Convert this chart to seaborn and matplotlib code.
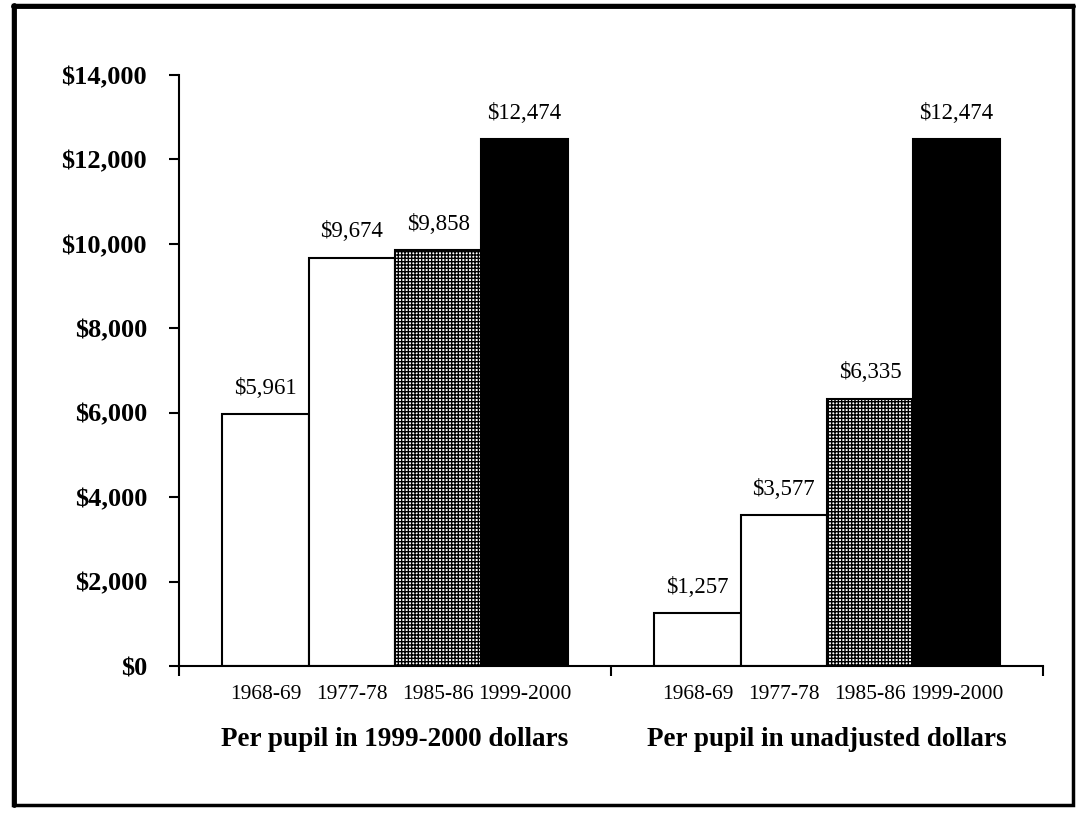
# Per pupil expenditure bar chart (adjusted vs unadjusted dollars)

import seaborn as sns
import matplotlib.pyplot as plt
import pandas as pd
from matplotlib.ticker import FuncFormatter
from matplotlib.patches import Rectangle
from matplotlib.lines import Line2D

# --- data ---
groups = ["Per pupil in 1999-2000 dollars", "Per pupil in unadjusted dollars"]
years = ["1968-69", "1977-78", "1985-86", "1999-2000"]
adjusted = [5961, 9674, 9858, 12474]
unadjusted = [1257, 3577, 6335, 12474]
bar_colors = ["white", "white", "white", "black"]

df = pd.DataFrame({
    "group": [groups[0]] * len(years) + [groups[1]] * len(years),
    "year": years * 2,
    "amount": adjusted + unadjusted,
})

sns.set_style("white")
plt.rcParams["font.family"] = ["Liberation Serif", "DejaVu Serif"]
plt.rcParams["hatch.linewidth"] = 1.0
plt.rcParams["text.color"] = "black"
plt.rcParams["xtick.color"] = "black"
plt.rcParams["ytick.color"] = "black"

fig = plt.figure(figsize=(10.76, 8.13), dpi=100)
W, H = 1076, 813
ax = fig.add_axes([179 / W, 1 - 666 / H, (1043 - 179) / W, (666 - 75) / H])

sns.barplot(data=df, x="group", y="amount", hue="year", order=groups,
            hue_order=years, palette=bar_colors, edgecolor="black",
            linewidth=1.5, width=0.8, legend=False, ax=ax)

# dotted checker pattern for the 1985-86 bars
for p in ax.containers[2]:
    p.set_hatch("+++++")

for c in ax.containers:
    ax.bar_label(c, labels=[f"${v:,.0f}" for v in c.datavalues],
                 padding=11, fontsize=16.5, color="black")

ax.set_xlim(-0.5, 1.5)
ax.set_ylim(0, 14000)
ax.set_yticks(range(0, 14001, 2000))
ax.yaxis.set_major_formatter(FuncFormatter(lambda v, _: f"${v:,.0f}"))
ax.tick_params(axis="y", which="major", direction="out", length=7,
               width=1.5, labelsize=19, pad=16, left=True,
               color="black", labelcolor="black")
for t in ax.get_yticklabels():
    t.set_fontweight("bold")

# year labels under each bar (minor ticks), group names (major ticks)
centers = []
names = []
for i, c in enumerate(ax.containers):
    for p in c:
        centers.append(p.get_x() + p.get_width() / 2)
        names.append(years[i])
ax.set_xticks(centers, names, minor=True)
ax.set_xticks([0, 1], groups)
ax.tick_params(axis="x", which="minor", length=0, labelsize=15.5, pad=14,
               labelcolor="black")
ax.tick_params(axis="x", which="major", length=0, labelsize=19.5, pad=44,
               labelcolor="black")
for t in ax.get_xticklabels():
    t.set_fontweight("bold")
ax.set_xlabel("")
ax.set_ylabel("")

# boundary ticks between groups
sec = ax.secondary_xaxis("bottom")
sec.set_xticks([-0.5, 0.5, 1.5])
sec.set_xticklabels([])
sec.tick_params(direction="out", length=7, width=1.5, color="black")
sec.spines["bottom"].set_visible(False)

sns.despine(ax=ax)
for s in ["left", "bottom"]:
    ax.spines[s].set_color("black")
    ax.spines[s].set_linewidth(1.5)

# outer frame
fig.add_artist(Rectangle((13 / W, 1 - 805 / H), (1073 - 13) / W, (805 - 5) / H,
                         transform=fig.transFigure, fill=False,
                         edgecolor="black", linewidth=2.5))
fig.add_artist(Line2D([14 / W, 14 / W], [1 - 805 / H, 1 - 5 / H],
                      transform=fig.transFigure, color="black", linewidth=3.5))
fig.add_artist(Line2D([13 / W, 1073 / W], [1 - 6 / H, 1 - 6 / H],
                      transform=fig.transFigure, color="black", linewidth=3.5))

fig.savefig("out.png", dpi=100)
